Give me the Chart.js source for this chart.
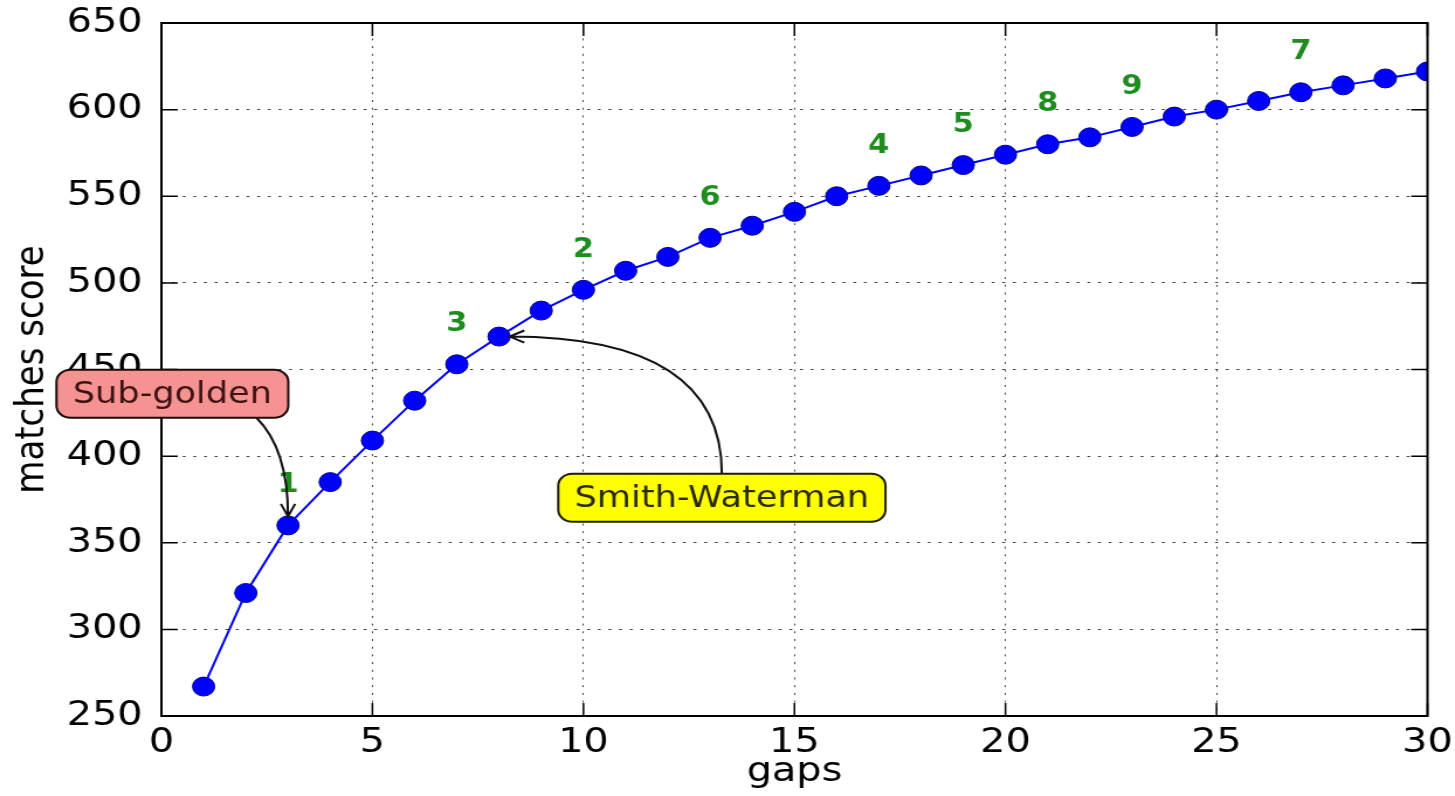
<!DOCTYPE html>
<html>
<head>
<meta charset="utf-8">
<script src="https://cdn.jsdelivr.net/npm/chart.js@4.4.1/dist/chart.umd.min.js"></script>
<style>
  html, body { margin: 0; padding: 0; background: #fff; overflow: hidden; }
  /* the reference is stretched sideways, so draw narrow and widen */
  #wrap { width: 1244px; height: 796px; transform: scaleX(1.1696); transform-origin: 0 0; }
</style>
</head>
<body>
<div id="wrap"><canvas id="chartGaps" width="1244" height="796"></canvas></div>
<script>
const gaps = [1, 2, 3, 4, 5, 6, 7, 8, 9, 10, 11, 12, 13, 14, 15, 16, 17, 18, 19, 20, 21, 22, 23, 24, 25, 26, 27, 28, 29, 30];
const scores = [267, 321, 360, 385, 409, 432, 453, 469, 484, 496, 507, 515, 526, 533, 541, 550, 556, 562, 568, 574, 580, 584, 590, 596, 600, 605, 610, 614, 618, 622];
const xTicks = [0, 5, 10, 15, 20, 25, 30];
const yTicks = [250, 300, 350, 400, 450, 500, 550, 600, 650];

// green rank numbers sitting above some of the points
const markGaps = [3, 10, 7, 17, 19, 13, 27, 21, 23];
const markLabels = ["1", "2", "3", "4", "5", "6", "7", "8", "9"];

// boxed notes with arrows
const noteTexts = ["Sub-golden", "Smith-Waterman"];
const noteX = [0.26, 13.28];
const noteY = [436, 376];
const noteTargets = [3, 8];

const FONT = '"DejaVu Sans", "Liberation Sans", sans-serif';

const decorPlugin = {
    id: 'decor',
    afterDraw(chart) {
        const { ctx, chartArea: a, scales: { x, y } } = chart;
        ctx.save();

        // inward ticks on all four sides
        ctx.strokeStyle = '#000';
        ctx.lineWidth = 1.5;
        ctx.beginPath();
        xTicks.forEach(v => {
            const px = x.getPixelForValue(v);
            ctx.moveTo(px, a.bottom); ctx.lineTo(px, a.bottom - 13);
            ctx.moveTo(px, a.top); ctx.lineTo(px, a.top + 13);
        });
        yTicks.forEach(v => {
            const py = y.getPixelForValue(v);
            ctx.moveTo(a.left, py); ctx.lineTo(a.left + 14, py);
            ctx.moveTo(a.right, py); ctx.lineTo(a.right - 14, py);
        });
        ctx.stroke();

        ctx.lineWidth = 2;
        ctx.strokeRect(a.left, a.top, a.right - a.left, a.bottom - a.top);

        // rank numbers
        ctx.font = 'bold 26px ' + FONT;
        ctx.fillStyle = '#1e8c1e';
        ctx.textAlign = 'center';
        ctx.textBaseline = 'middle';
        markGaps.forEach((g, i) => {
            ctx.fillText(markLabels[i], x.getPixelForValue(g), y.getPixelForValue(scores[g - 1] + 23));
        });

        // notes
        const looks = [
            { fill: '#f59393', edge: '#1e0a0a', text: '#3d1212' },
            { fill: '#ffff00', edge: '#1e1e00', text: '#2b2b00' }
        ];
        noteTexts.forEach((t, i) => {
            ctx.font = '30px ' + FONT;
            const cx = x.getPixelForValue(noteX[i]);
            const cy = y.getPixelForValue(noteY[i]);
            const w = ctx.measureText(t).width + 28, h = 48;
            const box = { l: cx - w / 2, t: cy - h / 2, r: cx + w / 2, b: cy + h / 2 };
            const tx = x.getPixelForValue(noteTargets[i]);
            const ty = y.getPixelForValue(scores[noteTargets[i] - 1]);

            let s, c, e;
            if (i === 0) {
                e = { x: tx, y: ty - 9 };
                s = { x: tx - 27, y: box.b };
                c = { x: tx, y: s.y + 31 };
            } else {
                e = { x: tx + 9, y: ty };
                s = { x: cx, y: box.t };
                c = { x: s.x, y: e.y };
            }
            ctx.strokeStyle = '#111';
            ctx.lineWidth = 2;
            ctx.beginPath();
            ctx.moveTo(s.x, s.y);
            ctx.quadraticCurveTo(c.x, c.y, e.x, e.y);
            const ang = Math.atan2(e.y - c.y, e.x - c.x);
            ctx.moveTo(e.x - 14 * Math.cos(ang - 0.45), e.y - 14 * Math.sin(ang - 0.45));
            ctx.lineTo(e.x, e.y);
            ctx.lineTo(e.x - 14 * Math.cos(ang + 0.45), e.y - 14 * Math.sin(ang + 0.45));
            ctx.stroke();

            ctx.beginPath();
            ctx.roundRect(box.l, box.t, w, h, 12);
            ctx.fillStyle = looks[i].fill;
            ctx.fill();
            ctx.strokeStyle = looks[i].edge;
            ctx.lineWidth = 2;
            ctx.stroke();
            ctx.fillStyle = looks[i].text;
            ctx.textAlign = 'center';
            ctx.textBaseline = 'middle';
            ctx.fillText(t, cx, cy + 1);
        });
        ctx.restore();
    }
};

const ctx = document.getElementById('chartGaps').getContext('2d');
new Chart(ctx, {
    type: 'line',
    data: {
        datasets: [{
            data: gaps.map((g, i) => ({ x: g, y: scores[i] })),
            borderColor: '#0000ff',
            borderWidth: 2,
            backgroundColor: '#0000ff',
            pointBackgroundColor: '#0000ff',
            pointBorderColor: '#00008b',
            pointBorderWidth: 1,
            pointRadius: 9.5,
            tension: 0,
            clip: 0
        }]
    },
    options: {
        responsive: false,
        animation: false,
        devicePixelRatio: 1,
        layout: { padding: { top: 23, right: 23.5, left: 0, bottom: 0 } },
        plugins: { legend: { display: false }, tooltip: { enabled: false } },
        scales: {
            x: {
                type: 'linear',
                min: 0, max: 30,
                afterBuildTicks: s => { s.ticks = xTicks.map(v => ({ value: v })); },
                afterFit: s => { s.height = 80; s.paddingLeft = 0; s.paddingRight = 0; },
                grid: { color: 'rgba(0,0,0,0.75)', lineWidth: 1, drawTicks: false },
                border: { display: false, dash: [2, 5.7] },
                ticks: { color: '#000', font: { family: FONT, size: 34 }, padding: 7, maxRotation: 0, autoSkip: false },
                title: { display: true, text: 'gaps', color: '#000', font: { family: FONT, size: 34 }, padding: { top: 0, bottom: 3 } }
            },
            y: {
                type: 'linear',
                min: 250, max: 650,
                afterBuildTicks: s => { s.ticks = yTicks.map(v => ({ value: v })); },
                afterFit: s => { s.width = 138; s.paddingTop = 0; s.paddingBottom = 0; },
                grid: { color: 'rgba(0,0,0,0.75)', lineWidth: 1, drawTicks: false },
                border: { display: false, dash: [2.5, 6.6] },
                ticks: { color: '#000', font: { family: FONT, size: 34 }, padding: 16, autoSkip: false },
                title: { display: true, text: 'matches score', color: '#000', font: { family: FONT, size: 34 }, padding: { top: 8, bottom: 0 } }
            }
        }
    },
    plugins: [decorPlugin]
});
</script>
</body>
</html>
